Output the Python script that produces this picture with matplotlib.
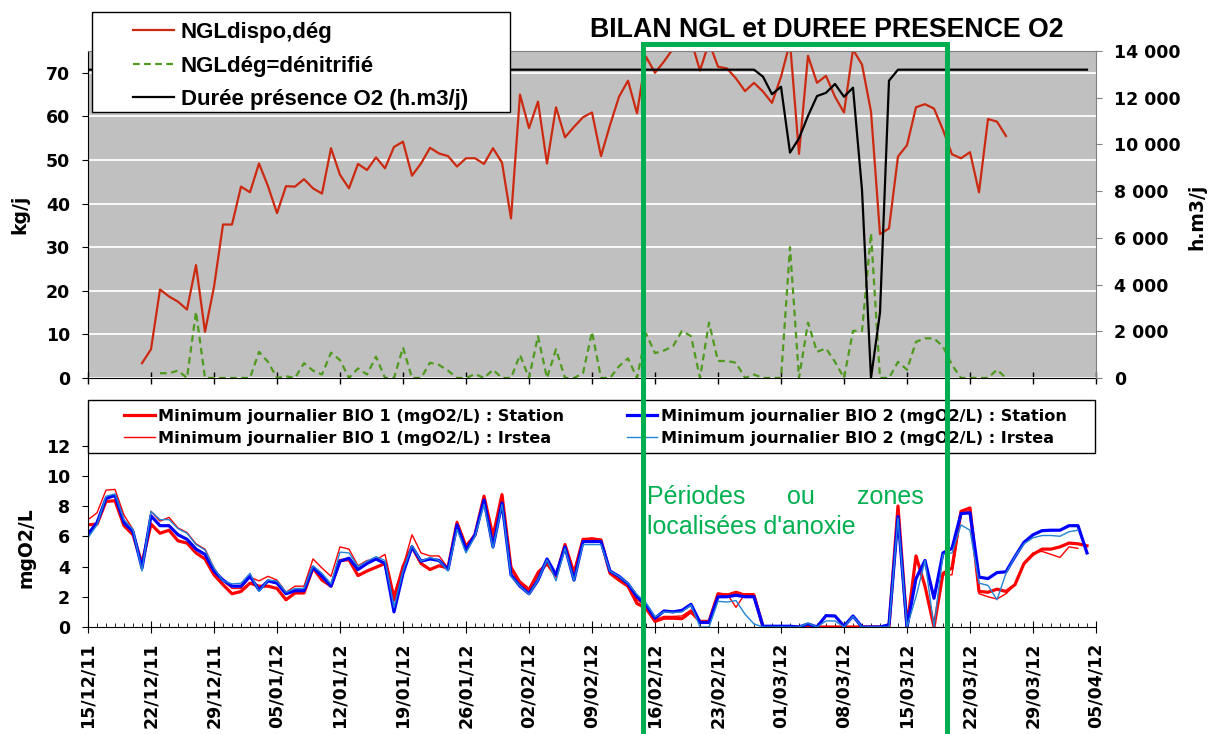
import matplotlib
matplotlib.use('Agg')
import matplotlib.pyplot as plt
from matplotlib.patches import Rectangle
import numpy as np
import pandas as pd

nan = np.nan

first_day = '2011-12-15'
last_day = '2012-04-05'
ngl_first_day = '2011-12-21'
den_first_day = '2011-12-23'

# kg/j, daily from 21/12/11
ngl_dispo = [3.4, 6.6, 20.3, 18.7, 17.5, 15.7, 25.9, 10.6, 20.9, 35.2,
             35.2, 43.9, 42.6, 49.2, 44.0, 37.8, 44.0, 43.9, 45.6, 43.5,
             42.3, 52.7, 46.6, 43.5, 49.1, 47.7, 50.6, 48.1, 53.0, 54.2,
             46.4, 49.2, 52.8, 51.5, 50.9, 48.5, 50.4, 50.4, 49.1, 52.7,
             49.4, 36.6, 65.0, 57.3, 63.4, 49.2, 62.1, 55.2, 57.6, 59.8,
             60.9, 50.9, 58.0, 64.5, 68.2, 60.7, 73.7, 70.0, 72.6, 75.5,
             77.0, 77.5, 70.5, 77.0, 71.4, 71.0, 68.7, 65.8, 67.7, 65.7,
             63.1, 69.1, 77.0, 51.4, 73.9, 67.7, 69.3, 64.5, 60.9, 75.3,
             71.9, 61.1, 33.0, 34.3, 50.8, 53.4, 62.1, 62.8, 61.8, 56.9,
             51.3, 50.4, 51.8, 42.6, 59.4, 58.8, 55.5]

# kg/j, daily from 23/12/11
ngl_den = [1.1, 1.1, 1.7, 0, 15.2, 0, 0, 0, 0, 0,
           0, 6.0, 3.7, 0, 0.4, 0, 3.4, 1.7, 0.8, 5.8,
           4.1, 0, 2.2, 0.8, 4.9, 0, 0, 7.0, 0, 0,
           3.5, 3.0, 1.7, 0, 0, 0.9, 0, 1.9, 0, 0,
           5.3, 0, 9.6, 0, 6.6, 0, 0, 1.1, 10.6, 0,
           0, 2.7, 4.5, 0, 10.2, 5.7, 6.3, 7.3, 10.8, 9.6,
           0, 12.7, 3.9, 3.9, 3.5, 0, 0.8, 0, 0, 0,
           30.0, 0, 12.7, 6.0, 6.8, 3.7, 0, 10.8, 10.8, 33.2,
           0, 0, 3.7, 1.9, 8.3, 9.1, 9.1, 7.2, 3.0, 0,
           0, 0, 0, 1.9, 0]

# h.m3/j, daily from 15/12/11
duree_o2 = [13200, 13200, 13200, 13200, 13200, 13200, 13200, 13200, 13200, 13200, 13200, 13200, 13200, 13200, 13200,
            13200, 13200, 13200, 13200, 13200, 13200, 13200, 13200, 13200, 13200, 13200, 13200, 13200, 13200, 13200,
            13200, 13200, 13200, 13200, 13200, 13200, 13200, 13200, 13200, 13200, 13200, 13200, 13200, 13200, 13200,
            13200, 13200, 13200, 13200, 13200, 13200, 13200, 13200, 13200, 13200, 13200, 13200, 13200, 13200, 13200,
            13200, 13200, 13200, 13200, 13200, 13200, 13200, 13200, 13200, 13200, 13200, 13200, 13200, 13200, 13200,
            12900, 12150, 12470, 9650, 10260, 11220, 12070, 12210, 12590, 12040, 12430, 8050, 0, 2800, 12730,
            13200, 13200, 13200, 13200, 13200, 13200, 13200, 13200, 13200, 13200, 13200,
            13200, 13200, 13200, 13200, 13200, 13200, 13200, 13200, 13200, 13200, 13200]

# mgO2/L, daily from 15/12/11
bio1_station = [6.76, 6.8, 8.3, 8.35, 6.7, 6.1, 4.2, 6.8, 6.2, 6.4,
                5.7, 5.55, 4.9, 4.5, 3.45, 2.8, 2.2, 2.35, 2.9, 2.7,
                2.7, 2.55, 1.8, 2.25, 2.25, 3.9, 3.1, 2.7, 4.4, 4.45,
                3.4, 3.7, 3.95, 4.2, 1.8, 4.0, 5.3, 4.2, 3.8, 4.05,
                3.9, 6.9, 5.3, 6.1, 8.65, 6.0, 8.75, 3.9, 2.9, 2.45,
                3.55, 4.2, 3.35, 5.45, 3.55, 5.8, 5.8, 5.75, 3.55, 3.1,
                2.7, 1.55, 1.24, 0.37, 0.58, 0.58, 0.55, 1.0, 0.37, 0.37,
                2.2, 2.1, 2.3, 2.1, 2.1, 0, 0, 0, 0, 0,
                0, 0, 0, 0, 0, 0, 0, 0, 0, 0,
                8.0, 0, 4.7, 2.7, 0, 3.55, 3.9, 7.65, 7.87, 2.35,
                2.3, 2.5, 2.35, 2.8, 4.2, 4.8, 5.15, 5.15, 5.3, 5.55,
                5.5, 5.37]
bio1_irstea = [7.1, 7.55, 9.05, 9.1, 7.4, 6.45, 4.0, 7.65, 7.0, 7.25,
               6.55, 6.25, 5.5, 5.15, 3.9, 3.05, 2.55, 2.55, 3.3, 3.05,
               3.35, 3.1, 2.3, 2.7, 2.7, 4.5, 3.9, 3.35, 5.3, 5.15,
               4.05, 4.4, 4.45, 4.8, 2.2, 4.0, 6.1, 4.9, 4.7, 4.7,
               3.9, 7.0, 5.45, 6.1, 8.65, 6.0, 8.8, 4.05, 3.05, 2.55,
               3.7, 4.2, 3.55, 5.5, 3.7, 5.8, 5.9, 5.8, 3.6, 3.3,
               2.85, 1.8, 1.35, 0.5, 0.7, 0.7, 0.73, 1.13, 0.42, 0.42,
               2.2, 2.2, 1.3, 2.2, 2.2, 0, 0, 0, 0, 0,
               0, 0, 0, 0, 0, 0, 0, 0, 0, 0,
               7.85, 0, 4.7, 2.7, 0, 3.45, 3.45, 7.5, 7.7, 2.2,
               2.0, 1.85, 2.2, 2.8, 4.26, 4.9, 5.0, 4.8, 4.6, 5.3,
               5.2, nan]
bio2_station = [6.15, 6.9, 8.5, 8.7, 6.9, 6.3, 3.9, 7.35, 6.7, 6.7,
                6.1, 5.8, 5.15, 4.8, 3.7, 3.1, 2.7, 2.7, 3.35, 2.45,
                3.05, 2.9, 2.2, 2.4, 2.4, 3.95, 3.35, 2.7, 4.35, 4.55,
                3.8, 4.2, 4.5, 4.2, 1.0, 3.55, 5.3, 4.35, 4.5, 4.4,
                3.8, 6.75, 5.1, 6.1, 8.4, 5.3, 8.2, 3.45, 2.7, 2.2,
                3.1, 4.5, 3.45, 5.3, 3.1, 5.65, 5.65, 5.65, 3.7, 3.35,
                2.85, 2.0, 1.46, 0.58, 1.06, 1.0, 1.1, 1.5, 0.3, 0.3,
                2.0, 2.0, 2.1, 2.0, 2.0, 0.05, 0.05, 0.05, 0.05, 0,
                0.2, 0, 0.75, 0.73, 0.05, 0.73, 0, 0, 0, 0.15,
                7.3, 0, 3.2, 4.4, 1.9, 4.9, 5.2, 7.5, 7.55, 3.3,
                3.2, 3.6, 3.65, 4.66, 5.6, 6.1, 6.37, 6.4, 6.4, 6.7,
                6.7, 4.9]
bio2_irstea = [5.9, 6.75, 8.65, 8.8, 7.1, 6.45, 3.7, 7.65, 7.1, 7.1,
               6.5, 6.2, 5.45, 5.1, 3.9, 3.05, 2.85, 2.9, 3.55, 2.35,
               3.1, 3.05, 2.3, 2.55, 2.55, 4.05, 3.55, 2.85, 4.95, 4.9,
               4.0, 4.35, 4.65, 4.4, 1.3, 3.7, 5.4, 4.35, 4.6, 4.4,
               3.7, 6.45, 4.9, 6.0, 8.1, 5.2, 8.1, 3.35, 2.7, 2.15,
               3.1, 4.45, 3.05, 5.2, 3.05, 5.45, 5.45, 5.45, 3.7, 3.35,
               2.9, 2.15, 1.6, 0.67, 1.0, 0.96, 1.0, 1.46, 0, 0,
               1.7, 1.65, 1.75, 0.85, 0.2, 0, 0, 0, 0, 0,
               0.25, 0, 0.4, 0.4, 0, 0.7, 0, 0, 0, 0,
               7.2, 0, 2.0, 4.4, 0, 4.8, 4.9, 6.75, 6.4, 2.9,
               2.75, 1.8, 3.56, 4.66, 5.5, 5.9, 6.05, 6.05, 6.0, 6.3,
               6.4, nan]

top_labels = ['NGLdispo,dég', 'NGLdég=dénitrifié', 'Durée présence O2 (h.m3/j)']
bottom_labels = ['Minimum journalier BIO 1 (mgO2/L) : Station',
                 'Minimum journalier BIO 1 (mgO2/L) : Irstea',
                 'Minimum journalier BIO 2 (mgO2/L) : Station',
                 'Minimum journalier BIO 2 (mgO2/L) : Irstea']
kg_ticks = [0, 10, 20, 30, 40, 50, 60, 70]
o2_ticks = [0, 2000, 4000, 6000, 8000, 10000, 12000, 14000]
mg_ticks = [0, 2, 4, 6, 8, 10, 12]

W, H = 1210, 734
def fx(px):
    return px / W
def fy(py):
    return 1 - py / H

plt.rcParams['font.family'] = ['DejaVu Sans']
green = '#00b050'
tick_font = dict(fontsize=12.5, fontweight='bold')

days = pd.date_range(first_day, periods=len(duree_o2))
ngl_days = pd.date_range(ngl_first_day, periods=len(ngl_dispo))
den_days = pd.date_range(den_first_day, periods=len(ngl_den))
week_ticks = pd.date_range(first_day, last_day, freq='7D')
all_days = pd.date_range(first_day, last_day)
x0, x1 = pd.Timestamp(first_day), pd.Timestamp(last_day)

fig = plt.figure(figsize=(W / 100, H / 100), dpi=100)

# ---- top panel
ax = fig.add_axes([fx(88), fy(378), fx(1096) - fx(88), fy(51) - fy(378)])
ax.set_facecolor('#c0c0c0')
l1, = ax.plot(ngl_days, ngl_dispo, color='#cc2a10', lw=1.6)
l2, = ax.plot(den_days, ngl_den, color='#4f9a1f', lw=1.6, ls=(0, (3, 2)))
ax.set_ylim(0, 75)
ax.set_yticks(kg_ticks, labels=[str(v) for v in kg_ticks], **tick_font)
ax.grid(axis='y', color='white', lw=1.3)
ax.set_axisbelow(True)
ax.set_xlim(x0, x1)
ax.set_xticks(week_ticks)
ax.tick_params(axis='x', labelbottom=False, direction='inout', length=9, width=1)
ax.tick_params(axis='y', direction='out', length=4, pad=9)
ax.spines['top'].set_color('#808080')
ax.spines['right'].set_visible(False)

ax2 = ax.twinx()
l3, = ax2.plot(days, duree_o2, color='black', lw=1.6)
ax2.set_ylim(0, 14000)
ax2.set_yticks(o2_ticks, labels=[f'{v:,}'.replace(',', ' ') for v in o2_ticks], **tick_font)
ax2.tick_params(axis='y', direction='out', length=4, pad=9, color='#808080')
for s in ['top', 'left', 'bottom']:
    ax2.spines[s].set_visible(False)
ax2.spines['right'].set_color('#808080')
ax2.set_xlim(x0, x1)

# ---- bottom panel
axb = fig.add_axes([fx(88), fy(627), fx(1096) - fx(88), fy(441) - fy(627)])
b1, = axb.plot(days, bio1_station, color='#ff0000', lw=2.3)
b2, = axb.plot(days, bio1_irstea, color='#ff0000', lw=1.0)
b3, = axb.plot(days, bio2_station, color='#0000ff', lw=2.3)
b4, = axb.plot(days, bio2_irstea, color='#2383d4', lw=1.0)
axb.set_ylim(0, 12.3)
axb.set_yticks(mg_ticks, labels=[str(v) for v in mg_ticks], **tick_font)
axb.set_xlim(x0, x1)
axb.set_xticks(week_ticks, labels=[d.strftime('%d/%m/%y') for d in week_ticks],
               rotation=90, **tick_font)
axb.set_xticks(all_days, minor=True)
axb.tick_params(axis='x', which='major', direction='inout', length=9, pad=7)
axb.tick_params(axis='x', which='minor', direction='in', length=3)
axb.tick_params(axis='y', direction='out', length=4, pad=9)
axb.spines['top'].set_visible(False)
axb.spines['right'].set_visible(False)

# ---- legends
fig.add_artist(Rectangle((fx(92), fy(112)), fx(510) - fx(92), fy(12) - fy(112),
                         transform=fig.transFigure, fc='white', ec='black', lw=1, zorder=2))
fig.legend([l1, l2, l3], top_labels, loc='upper left', bbox_to_anchor=(fx(122), fy(11)),
           bbox_transform=fig.transFigure, frameon=False, borderpad=0, handlelength=1.85,
           handletextpad=0.3, labelspacing=0.56,
           prop={'family': 'Liberation Sans', 'weight': 'bold', 'size': 16})

fig.add_artist(Rectangle((fx(88), fy(453)), fx(1095) - fx(88), fy(400) - fy(453),
                         transform=fig.transFigure, fc='white', ec='black', lw=1, zorder=2))
fig.legend([b1, b2, b3, b4], bottom_labels, loc='upper left', ncol=2,
           bbox_to_anchor=(fx(116), fy(401)), bbox_transform=fig.transFigure,
           frameon=False, borderpad=0, handlelength=1.9, handletextpad=0.2,
           labelspacing=0.42, columnspacing=3.9,
           prop={'weight': 'bold', 'size': 11.6})

# ---- texts
fig.text(fx(827), fy(37), 'BILAN NGL et DUREE PRESENCE O2', ha='center', va='baseline',
         family='Liberation Sans', weight='bold', size=19.3)
fig.text(fx(20), fy(214), 'kg/j', rotation=90, ha='center', va='center', weight='bold', size=13.5)
fig.text(fx(1197), fy(217), 'h.m3/j', rotation=90, ha='center', va='center', weight='bold', size=13.5)
fig.text(fx(26), fy(548), 'mgO2/L', rotation=90, ha='center', va='center', weight='bold', size=13.5)

# anoxia zone
fig.add_artist(Rectangle((fx(643), -0.05), fx(947) - fx(643), fy(44) + 0.05,
                         transform=fig.transFigure, fill=False, ec=green, lw=3.6, zorder=10))
gfont = dict(family='Liberation Sans', size=18, color=green, va='baseline', zorder=11)
fig.text(fx(647), fy(504), 'Périodes', ha='left', **gfont)
fig.text(fx(801), fy(504), 'ou', ha='center', **gfont)
fig.text(fx(924), fy(504), 'zones', ha='right', **gfont)
fig.text(fx(647), fy(534), "localisées d'anoxie", ha='left', **gfont)

fig.savefig('out.png', dpi=100)
